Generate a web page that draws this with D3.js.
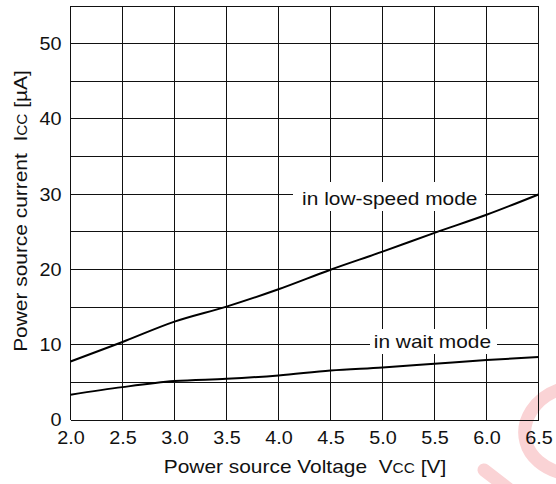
<!DOCTYPE html>
<html>
<head>
<meta charset="utf-8">
<script src="https://cdn.jsdelivr.net/npm/d3@7"></script>
<style>
  html, body { margin: 0; padding: 0; background: #fff; }
  svg { display: block; }
  text { font-family: "Liberation Sans", Arial, sans-serif; fill: #111; }
</style>
</head>
<body>
<svg id="chart" width="556" height="484"></svg>
<script>
// ---- data ----
const voltages = [2.0, 2.5, 3.0, 3.5, 4.0, 4.5, 5.0, 5.5, 6.0, 6.5];
const lowSpeedCurrent = [7.7, 10.3, 13.0, 15.0, 17.3, 19.9, 22.3, 24.8, 27.2, 29.9];
const waitCurrent = [3.3, 4.3, 5.1, 5.4, 5.85, 6.5, 6.9, 7.4, 7.9, 8.3];
const xTickLabels = ["2.0", "2.5", "3.0", "3.5", "4.0", "4.5", "5.0", "5.5", "6.0", "6.5"];
const yTickValues = [0, 10, 20, 30, 40, 50];
const yGridValues = [5, 10, 15, 20, 25, 30, 35, 40, 45, 50, 55];
const seriesLabels = ["in low-speed mode", "in wait mode"];

const svg = d3.select("#chart");
const x = d3.scaleLinear().domain([2.0, 6.5]).range([70.5, 538.5]);
const y = d3.scaleLinear().domain([0, 55]).range([419.5, 5.5]);
const STRETCH = 1.1;
function stretch(sel) {
  sel.each(function () {
    const w = this.getComputedTextLength();
    d3.select(this).attr("textLength", w * STRETCH).attr("lengthAdjust", "spacingAndGlyphs");
  });
}

// watermark (faint decorative stamp)
const wm = svg.append("g").attr("fill", "none").attr("stroke", "#fad3d5").attr("stroke-width", 13).attr("stroke-linecap", "round");
wm.append("path").attr("d", "M558,390 C536,398 520,420 526,442 C530,458 545,468 558,472");
wm.append("path").attr("d", "M484,470 L510,490");

// grid
const grid = svg.append("g").attr("stroke", "#111").attr("stroke-width", 1).attr("shape-rendering", "crispEdges");
grid.selectAll("line.v").data(voltages).join("line")
  .attr("x1", d => x(d)).attr("x2", d => x(d))
  .attr("y1", y(0)).attr("y2", y(55));
grid.selectAll("line.h").data([0].concat(yGridValues)).join("line")
  .attr("x1", x(2.0)).attr("x2", x(6.5))
  .attr("y1", d => Math.round(y(d)) + 0.5).attr("y2", d => Math.round(y(d)) + 0.5);

// label boxes (white) and curves
const line = d3.line().x((d, i) => x(voltages[i])).y(d => y(d)).curve(d3.curveMonotoneX);

const labels = [
  { text: seriesLabels[0], v: 5.07, base: 204.5, box: [293, 182, 192, 29] },
  { text: seriesLabels[1], v: 5.48, base: 347.5, box: [370, 329, 127, 25] }
];
labels.forEach(l => {
  svg.append("rect").attr("x", l.box[0]).attr("y", l.box[1]).attr("width", l.box[2]).attr("height", l.box[3]).attr("fill", "#fff");
});

svg.append("path").datum(lowSpeedCurrent).attr("d", line)
  .attr("fill", "none").attr("stroke", "#000").attr("stroke-width", 2);
svg.append("path").datum(waitCurrent).attr("d", line)
  .attr("fill", "none").attr("stroke", "#000").attr("stroke-width", 2);

labels.forEach(l => {
  svg.append("text").attr("x", x(l.v)).attr("y", l.base).attr("text-anchor", "middle")
    .attr("font-size", 19).text(l.text).call(stretch);
});

// axes (ticks as labels only)
const xAxis = d3.axisBottom(x).tickValues(voltages).tickFormat((d, i) => xTickLabels[i]).tickSize(0).tickPadding(0);
const gx = svg.append("g").attr("transform", `translate(0,${y(0)})`).call(xAxis);
gx.select(".domain").remove();
gx.selectAll("text").attr("font-size", 18).attr("dy", 0).attr("y", 24.5).attr("fill", "#111").style("font-family", "Liberation Sans, Arial, sans-serif").call(stretch);

const yAxis = d3.axisLeft(y).tickValues(yTickValues).tickFormat(d3.format("d")).tickSize(0).tickPadding(0);
const gy = svg.append("g").attr("transform", `translate(${x(2.0)},0)`).call(yAxis);
gy.select(".domain").remove();
gy.selectAll("text").attr("font-size", 18).attr("x", -9).attr("dy", "0.36em").attr("fill", "#111").style("font-family", "Liberation Sans, Arial, sans-serif").call(stretch);

// axis titles
const xt = svg.append("text").attr("x", 305).attr("y", 473).attr("text-anchor", "middle").attr("font-size", 19);
xt.append("tspan").text("Power source Voltage\u00a0\u00a0V");
xt.append("tspan").attr("font-size", 14).text("CC");
xt.append("tspan").text(" [V]");
stretch(xt);

const yt = svg.append("text").attr("transform", "translate(27,211) rotate(-90)").attr("text-anchor", "middle").attr("font-size", 19);
yt.append("tspan").text("Power source current\u00a0\u00a0I");
yt.append("tspan").attr("font-size", 14).text("CC");
yt.append("tspan").text(" [µA]");
stretch(yt);
</script>
</body>
</html>
